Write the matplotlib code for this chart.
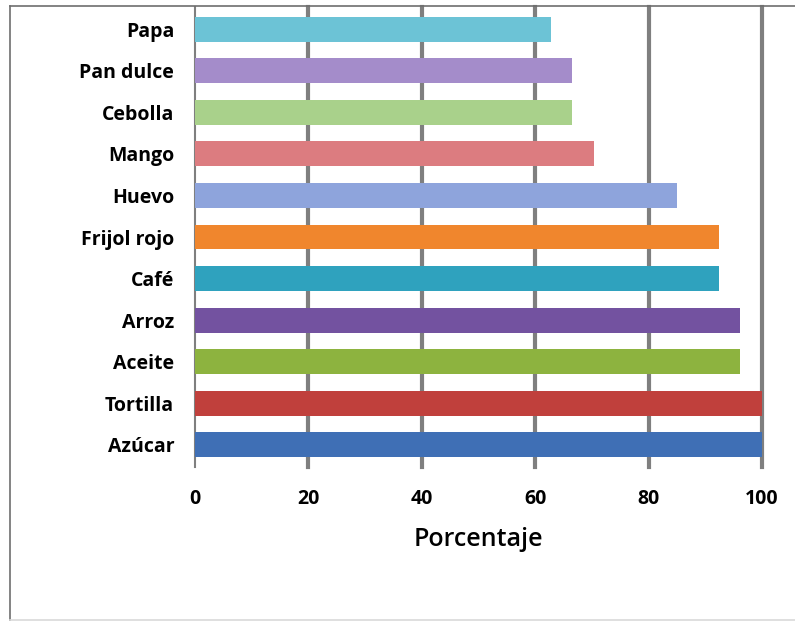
import numpy as np
import matplotlib
matplotlib.use('Agg')
import matplotlib.pyplot as plt
from matplotlib.lines import Line2D

# data, bottom to top as drawn
categories = ['Azúcar', 'Tortilla', 'Aceite', 'Arroz', 'Café', 'Frijol rojo',
              'Huevo', 'Mango', 'Cebolla', 'Pan dulce', 'Papa']
values = [100, 100, 96.1, 96.1, 92.4, 92.4, 85, 70.4, 66.5, 66.5, 62.8]
colors = ['#3f6fb5', '#c0403c', '#8db33f', '#7352a0', '#2fa2be', '#f0862d',
          '#8ea4dc', '#dc7c80', '#a9d18b', '#a48cca', '#6cc3d6']
xticks = [0, 20, 40, 60, 80, 100]

plt.rcParams['font.family'] = ['Open Sans', 'DejaVu Sans']

fig = plt.figure(figsize=(7.95, 6.27), dpi=100)
ax = fig.add_axes([0.2453, 0.2552, 0.7132, 0.7336])

y = np.arange(len(categories))
ax.barh(y, values, height=0.6, color=colors, zorder=3)

ax.set_xlim(0, 100)
ax.set_ylim(-0.53, 10.53)
ax.set_xticks(xticks)
ax.set_yticks(y)
ax.set_yticklabels(categories, fontsize=14, fontweight='bold')
ax.set_xticklabels([str(t) for t in xticks], fontsize=14, fontweight='bold')
ax.tick_params(axis='both', length=0)
ax.tick_params(axis='y', pad=15)
ax.tick_params(axis='x', pad=16)

# thick gray vertical gridlines
for t in xticks[1:]:
    ax.axvline(t, color='#7f7f7f', linewidth=3, zorder=1, clip_on=False)

for s in ['top', 'right', 'bottom']:
    ax.spines[s].set_visible(False)
ax.spines['left'].set_color('#7f7f7f')
ax.spines['left'].set_linewidth(1.5)

ax.set_xlabel('Porcentaje', fontsize=18, fontweight='semibold', labelpad=13)

# outer chart border
fig.add_artist(Line2D([0.0126, 0.0126], [0.011, 0.990], color='#6e6e6e', linewidth=1.2, transform=fig.transFigure))
fig.add_artist(Line2D([0.0126, 1.0], [0.990, 0.990], color='#6e6e6e', linewidth=1.2, transform=fig.transFigure))
fig.add_artist(Line2D([0.0126, 1.0], [0.011, 0.011], color='#d9d9d9', linewidth=1.2, transform=fig.transFigure))

fig.savefig('out.png', dpi=100)
